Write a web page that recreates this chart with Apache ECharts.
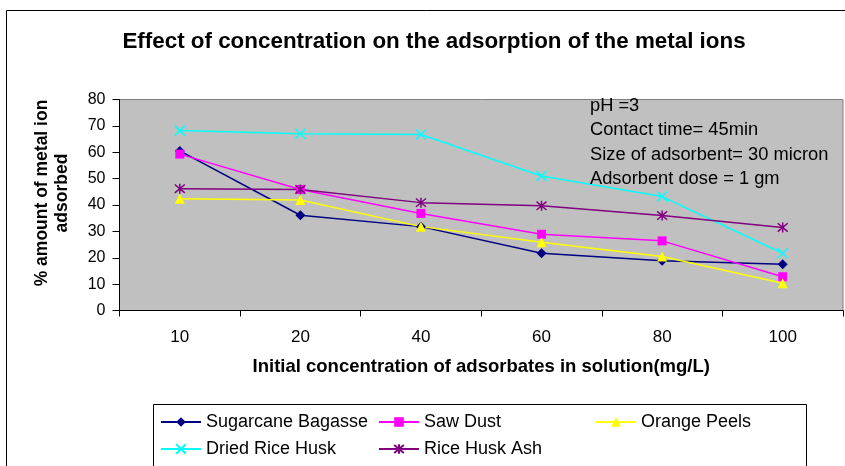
<!DOCTYPE html>
<html>
<head>
<meta charset="utf-8">
<script src="https://cdn.jsdelivr.net/npm/echarts@6/dist/echarts.min.js"></script>
<style>
html,body{margin:0;padding:0;background:#fff;}
#c{width:845px;height:466px;}
</style>
</head>
<body>
<div id="c"></div>
<script>
var categories = ['10', '20', '40', '60', '80', '100'];
var sugarcaneBagasse = [60.5, 36.1, 31.8, 21.7, 18.9, 17.5];
var sawDust = [59.3, 45.9, 36.8, 28.9, 26.4, 12.8];
var orangePeels = [42.4, 41.9, 31.8, 25.9, 20.5, 10.3];
var driedRiceHusk = [68.2, 67.0, 66.7, 51.0, 43.2, 21.7];
var riceHuskAsh = [46.2, 45.9, 40.9, 39.7, 36.0, 31.5];
var annotationLines = ['pH =3', 'Contact time= 45min', 'Size of adsorbent= 30 micron', 'Adsorbent dose = 1 gm'];

var FONT = 'Arial, "Liberation Sans", sans-serif';
var chart = echarts.init(document.getElementById('c'), null, {renderer: 'canvas'});

function mk(name, data, color, symbol, size, stroked) {
  return {
    name: name,
    type: 'line',
    data: data,
    symbol: symbol,
    symbolSize: size,
    showAllSymbol: true,
    lineStyle: {color: color, width: 1.5},
    itemStyle: stroked ? {color: color, borderColor: color, borderWidth: 1.5} : {color: color, borderWidth: 0},
    emphasis: {disabled: true},
    animation: false,
    z: 3
  };
}

var xSym = 'path://M0,0L10,10M10,0L0,10';
var starSym = 'path://M0,0L10,10M10,0L0,10M5,-1L5,11';

var legendBase = {
  orient: 'vertical',
  itemWidth: 40,
  itemHeight: 12,
  itemGap: 9,
  textStyle: {fontFamily: FONT, fontSize: 18, color: '#000'},
  selectedMode: false,
  padding: 0
};

chart.setOption({
  backgroundColor: '#fff',
  animation: false,
  title: {
    text: 'Effect of concentration on the adsorption of the metal ions',
    left: 429, top: 26, textAlign: 'center',
    textStyle: {fontFamily: FONT, fontSize: 22.4, fontWeight: 'bold', color: '#000'}
  },
  grid: {
    left: 119.5, right: 2, top: 99.5, bottom: 155.5,
    show: true, backgroundColor: '#C0C0C0', borderColor: '#808080', borderWidth: 1
  },
  legend: [
    Object.assign({}, legendBase, {left: 160, top: 413, data: ['Sugarcane Bagasse', 'Dried Rice Husk']}),
    Object.assign({}, legendBase, {left: 378, top: 413, data: ['Saw Dust', 'Rice Husk Ash']}),
    Object.assign({}, legendBase, {left: 595, top: 413, data: ['Orange Peels']})
  ],
  xAxis: {
    type: 'category',
    data: categories,
    boundaryGap: true,
    name: 'Initial concentration of adsorbates in solution(mg/L)',
    nameLocation: 'middle',
    nameGap: 47,
    nameMoveOverlap: false,
    nameTextStyle: {fontFamily: FONT, fontSize: 18.5, fontWeight: 'bold', color: '#000'},
    axisLine: {lineStyle: {color: '#000', width: 1}},
    axisTick: {show: true, length: 6, lineStyle: {color: '#000'}},
    axisLabel: {fontFamily: FONT, fontSize: 17, color: '#000', margin: 18},
    splitLine: {show: false}
  },
  yAxis: {
    type: 'value',
    min: 0, max: 80, interval: 10,
    name: '% amount of metal ion\nadsorbed',
    nameLocation: 'middle',
    nameGap: 47,
    nameMoveOverlap: false,
    nameRotate: 90,
    nameTextStyle: {fontFamily: FONT, fontSize: 17.5, fontWeight: 'bold', color: '#000', lineHeight: 20, padding: [0, 0, 0, 24]},
    axisLine: {show: true, lineStyle: {color: '#000', width: 1}},
    axisTick: {show: true, length: 7, lineStyle: {color: '#000'}},
    axisLabel: {fontFamily: FONT, fontSize: 16, color: '#000', margin: 14},
    splitLine: {show: false}
  },
  graphic: [
    {type: 'rect', shape: {x: 6.5, y: 10.5, width: 900, height: 600}, style: {fill: 'none', stroke: '#000', lineWidth: 1}, silent: true, z: -10},
    {type: 'rect', shape: {x: 153.5, y: 404.5, width: 653, height: 100}, style: {fill: 'none', stroke: '#000', lineWidth: 1}, silent: true, z: 1},
    {type: 'text', x: 590, y: 93.5, style: {text: annotationLines.join('\n'), fontFamily: FONT, fontSize: 18.3, lineHeight: 24.4, fill: '#000'}, silent: true, z: 10}
  ],
  series: [
    mk('Sugarcane Bagasse', sugarcaneBagasse, '#000080', 'diamond', 10, false),
    mk('Saw Dust', sawDust, '#FF00FF', 'rect', 9, false),
    mk('Orange Peels', orangePeels, '#FFFF00', 'triangle', 10, false),
    mk('Dried Rice Husk', driedRiceHusk, '#00FFFF', xSym, 10, true),
    mk('Rice Husk Ash', riceHuskAsh, '#800080', starSym, 10, true)
  ]
});
</script>
</body>
</html>
